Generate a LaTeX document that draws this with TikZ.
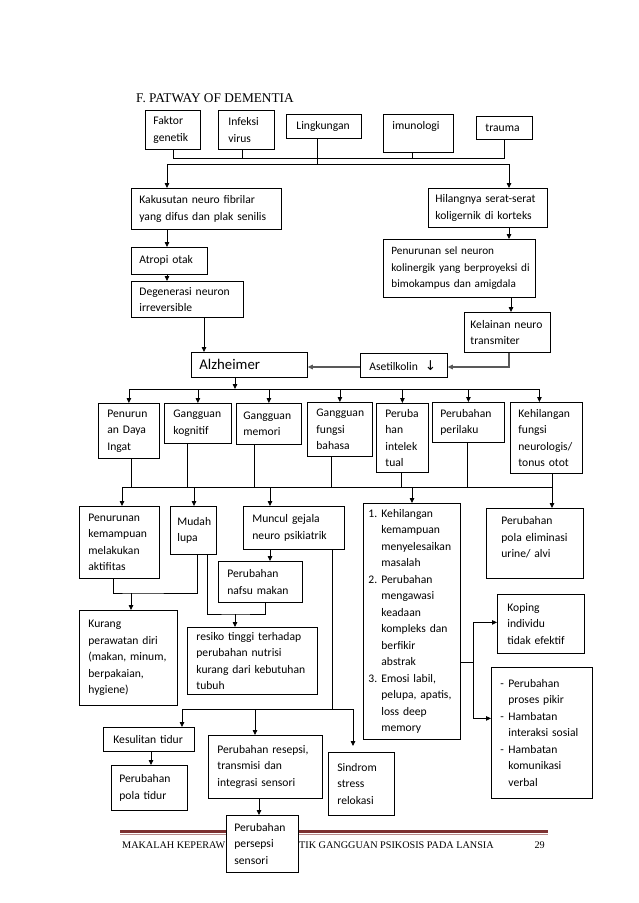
\documentclass[tikz,border=0pt]{standalone}
\usepackage{fontspec}
\setmainfont{Liberation Serif}
\newfontfamily\bodyf{Carlito}
\newfontfamily\symf{DejaVu Sans}
\usetikzlibrary{arrows.meta}
\definecolor{footred}{RGB}{125,50,50}
\definecolor{footlight}{RGB}{185,140,140}
\newcommand{\lnum}[1]{\makebox[13pt][l]{#1}}
\newcommand{\lind}{\hspace*{13pt}}
\newcommand{\dsh}{\makebox[8pt][l]{-}}
\newcommand{\dind}{\hspace*{8pt}}
\begin{document}
\begin{tikzpicture}[x=1pt,y=-1pt,
  box/.style={draw, fill=white, line width=0.8pt, font={\bodyf\fontsize{11.6pt}{16.5pt}\selectfont}, align=left, anchor=north west, inner xsep=8pt, inner ysep=0pt, execute at begin node={\hyphenpenalty=10000\exhyphenpenalty=10000}},
  ln/.style={line width=0.8pt},
  ar/.style={ln, -{Triangle[length=5pt,width=4.5pt]}},
  arg/.style={ar, draw=black!65, line width=1.1pt},
  plain/.style={inner sep=0pt}
]
\useasboundingbox (0,0) rectangle (638,903);
\fill[white] (0,0) rectangle (638,903);

% title
\node[plain, anchor=base west, font=\fontsize{13.3pt}{15pt}\selectfont] (title) at (136,102.5) {F. PATWAY OF DEMENTIA};

% footer
\coordinate (fl) at (120,831); \coordinate (fr) at (548,831);
\draw[line width=3pt, footred] (fl) -- (fr);
\draw[line width=0.8pt, footlight] ([yshift=-3.2pt]fl) -- ([yshift=-3.2pt]fr);
\node[plain, anchor=base west, font=\fontsize{10.2pt}{12pt}\selectfont] (foot1) at (122,848) {MAKALAH KEPERAW};
\node[plain, anchor=base west, font=\fontsize{10.2pt}{12pt}\selectfont] (foot2) at (299,848) {TIK GANGGUAN PSIKOSIS PADA LANSIA};
\node[plain, anchor=base east, font=\fontsize{10.2pt}{12pt}\selectfont] (page) at (545,848) {29};

% top causes
\node[box, text width=39pt, minimum height=39pt] (faktor) at (145,110) {Faktor\\genetik};
\node[box, inner xsep=10pt, text width=36pt, minimum height=39pt] (infeksi) at (218,110) {Infeksi\\virus};
\node[box, inner xsep=10pt, text width=55pt, minimum height=24pt] (lingk) at (286,114) {Lingkungan};
\node[box, inner xsep=9pt, text width=52pt, minimum height=38pt] (imun) at (383,114) {imunologi\\\mbox{}};
\node[box, inner xsep=9pt, text width=38pt, minimum height=23pt] (trauma) at (476,116) {trauma};

% left chain
\node[box, text width=134pt, minimum height=41pt] (kakus) at (131,188) {Kakusutan~neuro~fibrilar\\yang~difus~dan~plak~senilis};
\node[box, text width=60pt, minimum height=27pt] (atropi) at (131,247) {Atropi~otak};
\node[box, text width=96pt, minimum height=36pt] (degen) at (131,281) {Degenerasi~neuron\\irreversible};

% right chain
\node[box, inner xsep=7pt, text width=105pt, minimum height=39pt] (hilang) at (428,188) {Hilangnya~serat-serat\\koligernik~di~korteks};
\node[box, font={\bodyf\fontsize{11.2pt}{16.5pt}\selectfont}, inner xsep=8pt, text width=136pt, minimum height=58pt] (pensel) at (383,239) {Penurunan~sel~neuron\\kolinergik~yang~berproyeksi~di\\bimokampus~dan~amigdala};
\node[box, inner xsep=6pt, text width=74pt, minimum height=40pt] (kelainan) at (464,312) {Kelainan~neuro\\transmiter};

% alzheimer row
\node[box, font={\bodyf\fontsize{14.8pt}{16pt}\selectfont}, text width=100pt, minimum height=25pt] (alz) at (191,352) {Alzheimer};
\node[box, inner xsep=9pt, text width=69pt, minimum height=24pt] (asetil) at (360,353) {Asetilkolin\hspace{7pt}{\symf\fontsize{13.5pt}{13pt}\selectfont ↓}};

% row of effects
\node[box, inner xsep=9pt, text width=43pt, minimum height=55pt] (r1) at (98,403) {Penurun\\an~Daya\\Ingat};
\node[box, inner xsep=9pt, text width=49pt, minimum height=40pt] (r2) at (164,403) {Gangguan\\kognitif};
\node[box, inner xsep=7pt, text width=51pt, minimum height=41pt] (r3) at (236,403) {Gangguan\\memori};
\node[box, inner xsep=9pt, text width=47pt, minimum height=54pt] (r4) at (307,402) {Gangguan\\fungsi\\bahasa};
\node[box, inner xsep=9pt, text width=34pt, minimum height=69pt] (r5) at (376,403) {Peruba\\han\\intelek\\tual};
\node[box, inner xsep=8pt, text width=56pt, minimum height=40pt] (r6) at (432,402) {Perubahan\\perilaku};
\node[box, inner xsep=8pt, text width=56pt, minimum height=71pt] (r7) at (510,402) {Kehilangan\\fungsi\\neurologis/\\tonus~otot};

% lower level
\node[box, inner xsep=9pt, text width=62pt, minimum height=72pt] (pk) at (79,506) {Penurunan\\kemampuan\\melakukan\\aktifitas};
\node[box, inner xsep=7pt, text width=32pt, minimum height=48pt] (mudah) at (170,506) {Mudah\\lupa};
\node[box, inner xsep=9pt, text width=83pt, minimum height=43pt] (muncul) at (243,506) {Muncul~gejala\\neuro~psikiatrik};
\node[box, inner xsep=9pt, text width=66pt, minimum height=41pt] (nafsu) at (218,561) {Perubahan\\nafsu~makan};
\node[box, inner xsep=9pt, text width=80pt, minimum height=95pt] (kurang) at (79,610) {Kurang\\perawatan~diri\\(makan,~minum,\\berpakaian,\\hygiene)};
\node[box, inner xsep=9pt, text width=112pt, minimum height=67pt] (resiko) at (187,627) {resiko~tinggi~terhadap\\perubahan~nutrisi\\kurang~dari~kebutuhan\\tubuh};
\node[box, inner xsep=5pt, text width=87pt, minimum height=236pt] (list) at (363,503) {\lnum{1.}Kehilangan\\\lind kemampuan\\\lind menyelesaikan\\\lind masalah\\\lnum{2.}Perubahan\\\lind mengawasi\\\lind keadaan\\\lind kompleks~dan\\\lind berfikir\\\lind abstrak\\\lnum{3.}Emosi~labil,\\\lind pelupa,~apatis,\\\lind loss~deep\\\lind memory};
\node[box, inner xsep=15pt, text width=67pt, minimum height=70pt] (elim) at (486,508) {Perubahan\\pola~eliminasi\\urine/~alvi\\[-4pt]\mbox{}};
\node[box, inner xsep=10pt, text width=67pt, minimum height=59pt] (koping) at (497,594) {Koping\\individu\\tidak~efektif};
\node[box, inner xsep=9pt, text width=83pt, minimum height=131pt] (hamb) at (491,667) {\dsh Perubahan\\\dind proses~pikir\\\dsh Hambatan\\\dind interaksi~sosial\\\dsh Hambatan\\\dind komunikasi\\\dind verbal};

% bottom level
\node[box, inner xsep=10pt, text width=71pt, minimum height=24pt] (kesul) at (103,727) {Kesulitan~tidur};
\node[box, inner xsep=8pt, text width=60pt, minimum height=45pt] (polatidur) at (111,765) {Perubahan\\pola~tidur};
\node[box, inner xsep=9pt, text width=96pt, minimum height=63pt] (resepsi) at (208,735) {Perubahan~resepsi,\\transmisi~dan\\integrasi~sensori};
\node[box, inner xsep=8pt, text width=56pt, minimum height=57pt] (persepsi) at (226,815) {Perubahan\\persepsi\\sensori};
\node[box, inner xsep=9pt, text width=48pt, minimum height=63pt] (sindrom) at (328,752) {Sindrom\\stress\\relokasi};

% ---------- connectors ----------
\coordinate (bus1) at (0,158);
\draw[ln] (faktor.south) -- (faktor.south |- bus1) -- (trauma.south |- bus1) -- (trauma.south);
\draw[ln] ([xshift=-4pt]infeksi.south) -- ([xshift=-4pt]infeksi.south |- bus1);
\draw[ln] ([xshift=-6pt]imun.south) -- ([xshift=-6pt]imun.south |- bus1);
\coordinate (b2L) at (167,164); \coordinate (b2R) at (509,164);
\draw[ln] ([xshift=-6.5pt]lingk.south) -- ([xshift=-6.5pt]lingk.south |- b2L);
\draw[ln] (b2L) -- (b2R);
\draw[ar] (b2L) -- (b2L |- kakus.north);
\draw[ar] (b2R) -- (b2R |- hilang.north);

\draw[ar] (kakus.south -| b2L) -- (atropi.north -| b2L);
\draw[ar] (atropi.south -| b2L) -- (degen.north -| b2L);
\coordinate (dg) at (204,0);
\draw[ar] (degen.south -| dg) -- (alz.north -| dg);

\draw[ar] (hilang.south -| b2R) -- (pensel.north -| b2R);
\coordinate (ps) at (511,0);
\draw[ar] (pensel.south -| ps) -- (kelainan.north -| ps);
\coordinate (kl) at (509,367);
\draw[arg] (kelainan.south -| kl) -- (kl) -- (asetil.east |- kl);
\draw[arg] (asetil.west |- kl) -- (alz.east |- kl);

\coordinate (b3) at (235,389);
\draw[ar] (alz.south -| b3) -- (b3);
\draw[ln] (r1.north |- b3) -- ([xshift=-7pt]r7.north |- b3);
\foreach \n in {r1,r2,r3,r4,r5,r6} { \draw[ar] (\n.north |- b3) -- (\n.north); }
\draw[ar] ([xshift=-7pt]r7.north |- b3) -- ([xshift=-7pt]r7.north);

\coordinate (b4L) at (122,487); \coordinate (b4R) at (552,487);
\draw[ln] (b4L) -- (b4R);
\draw[ln] ([xshift=2.5pt]r1.south) -- ([xshift=2.5pt]r1.south |- b4L);
\draw[ln] ([xshift=-10.5pt]r2.south) -- ([xshift=-10.5pt]r2.south |- b4L);
\draw[ln] ([xshift=-14.5pt]r3.south) -- ([xshift=-14.5pt]r3.south |- b4L);
\draw[ln] ([xshift=-8.5pt]r4.south) -- ([xshift=-8.5pt]r4.south |- b4L);
\draw[ln] ([xshift=-1pt]r5.south) -- ([xshift=-1pt]r5.south |- b4L);
\draw[ln] ([xshift=-1pt]r6.south) -- ([xshift=-1pt]r6.south |- b4L);
\draw[ln] ([xshift=6pt]r7.south) -- ([xshift=6pt]r7.south |- b4L);
\draw[ar] (b4L) -- (b4L |- pk.north);
\coordinate (c194) at (194,487); \coordinate (c270) at (270,487); \coordinate (c412) at (412,487);
\draw[ar] (c194) -- (c194 |- mudah.north);
\draw[ar] (c270) -- (c270 |- muncul.north);
\draw[ar] (c412) -- (c412 |- list.north);
\draw[ar] (b4R) -- (b4R |- elim.north);

\coordinate (kp) at (131,593);
\draw[ln] ([xshift=-6pt]pk.south) |- (kp) -| ([xshift=4pt]mudah.south);
\draw[ar] (kp) -- (kp |- kurang.north);
\coordinate (mr) at (235,614);
\draw[ln] ([xshift=14pt]mudah.south) |- (mr) -| ([xshift=5pt]nafsu.south);
\draw[ar] (mr) -- (mr |- resiko.north);
\coordinate (mn) at (270,0);
\draw[ar] (muncul.south -| mn) -- (nafsu.north -| mn);

\coordinate (b5) at (332,709); \coordinate (b5L) at (182,709); \coordinate (b5M) at (255,709); \coordinate (b5R) at (353,709);
\draw[ln] (muncul.south -| b5) -- (b5);
\draw[ln] (b5L) -- (b5R);
\draw[ar] (b5L) -- (b5L |- kesul.north);
\draw[ar] (b5M) -- (b5M |- resepsi.north);
\draw[ar, shorten >=6pt] (b5R) -- (b5R |- sindrom.north);
\coordinate (kt) at (151,0);
\draw[ar] (kesul.south -| kt) -- (polatidur.north -| kt);
\coordinate (rp) at (259,0);
\draw[ar] (resepsi.south -| rp) -- (persepsi.north -| rp);

\coordinate (lk) at (473,662);
\draw[ln] (list.east |- lk) -- (lk);
\draw[ar] (lk) |- ([yshift=1.5pt]koping.west);
\draw[ar] (lk) |- ([yshift=14.5pt]hamb.west);
\end{tikzpicture}
\end{document}
